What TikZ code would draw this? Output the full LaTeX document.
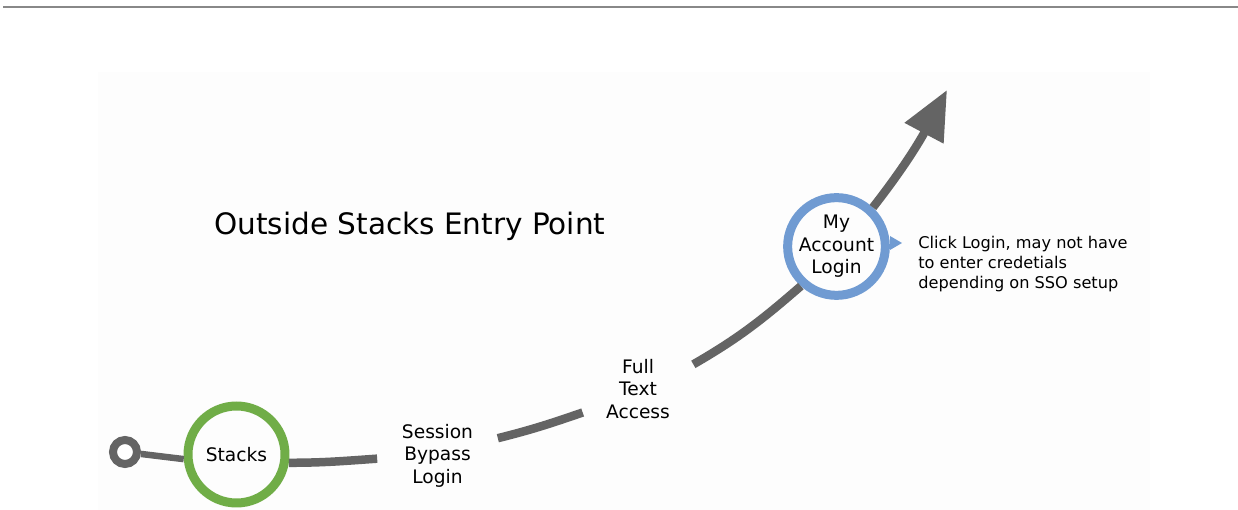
\documentclass[tikz,border=0pt]{standalone}
\usepackage{fontspec}
\setmainfont{DejaVu Sans}
\usetikzlibrary{arrows.meta}
\definecolor{trackgray}{RGB}{100,100,100}
\definecolor{stackgreen}{RGB}{112,173,71}
\definecolor{loginblue}{RGB}{112,155,210}
\definecolor{rulegray}{RGB}{136,136,136}
\definecolor{panel}{RGB}{253,253,253}
\begin{document}
\begin{tikzpicture}[x=0.02cm,y=0.02cm]
  \tikzstyle{stop}=[circle,line width=0.18cm,inner sep=0pt,minimum size=1.94cm,align=center,font=\fontsize{10.6}{12.8}\selectfont]
  \tikzstyle{lbl}=[align=center,inner sep=0pt,minimum height=1.5cm,font=\fontsize{10.6}{12.8}\selectfont]
  \tikzstyle{track}=[draw=trackgray,line width=0.17cm]
  \useasboundingbox (0,0) rectangle (1238,510);
  \fill [panel] (98,0) rectangle (1150,438);
  \draw [rulegray,line width=0.05cm] (3,503) -- (1238,503);
  \node (title) [anchor=base west,inner sep=0pt,font=\fontsize{16.8}{20}\selectfont] at (214,275) {Outside Stacks Entry Point};
  \node (r0) [circle,draw=trackgray,line width=0.16cm,fill=white,minimum size=0.48cm,inner sep=0pt] at (125,58) {};
  \node (s1) [stop,draw=stackgreen] at (236.5,55.5) {Stacks};
  \node (s2) [lbl,minimum width=2.4cm] at (437.5,54.5) {Session\\Bypass\\Login};
  \node (s3) [lbl,minimum width=2.2cm] at (638,121) {Full\\Text\\Access};
  \node (s4) [stop,draw=loginblue] at (836.5,263.5) {My\\Account\\Login};
  \coordinate (tip) at (947,420);
  \draw [track,line width=0.13cm] (r0) -- (s1.185);
  \draw [track] (s1.-9) to[out=0,in=184] (s2.183);
  \draw [track] (s2.16) to[out=14,in=199] (s3.203);
  \draw [track] (s3.24) to[out=30,in=221] (s4.228);
  \draw [track,-{Triangle[length=0.98cm,width=0.84cm]}] (s4.47) to[out=52,in=242] (tip);
  \fill [loginblue] (890,274) -- (902,267) -- (890,260) -- cycle;
  \node (note) [anchor=west,inner sep=0pt,align=left,font=\fontsize{9.2}{11.6}\selectfont] at (918,246) {Click Login, may not have\\to enter credetials\\depending on SSO setup};
\end{tikzpicture}
\end{document}
